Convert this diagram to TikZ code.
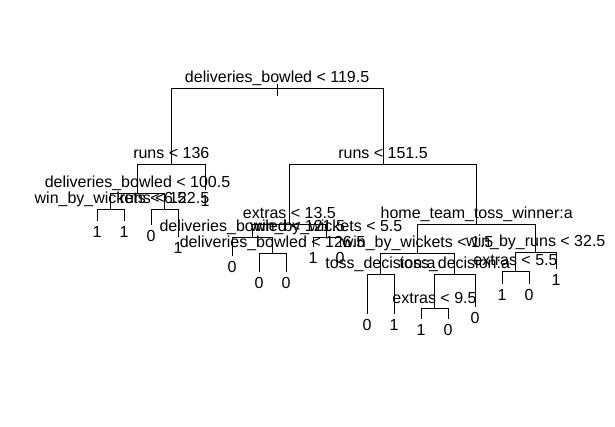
\documentclass[tikz,border=0pt]{standalone}
\usepackage{fontspec}
\setmainfont{Liberation Sans}

\begin{document}
\begin{tikzpicture}[x=1pt, y=-1pt, line width=0.9pt,
  split/.style={anchor=base, inner sep=0pt, font=\fontsize{16}{18}\selectfont},
  leaf/.style={anchor=north, inner xsep=0pt, inner ysep=5pt, font=\fontsize{16}{18}\selectfont}]
\useasboundingbox (0,0) rectangle (615,427);
% split points
\coordinate (db1) at (277.1,88);
\coordinate (ru1) at (171.3,164);
\coordinate (ru2) at (383.0,164);
\coordinate (db2) at (137.5,193);
\coordinate (wk1) at (110.5,209);
\coordinate (ru3) at (164.5,209);
\coordinate (ex1) at (289.4,224);
\coordinate (ht)  at (476.7,224);
\coordinate (db3) at (252.3,237);
\coordinate (wk2) at (326.5,237);
\coordinate (db4) at (272.5,253);
\coordinate (wk3) at (417.6,253);
\coordinate (wr)  at (535.8,252);
\coordinate (td1) at (380.5,274);
\coordinate (td2) at (454.8,274);
\coordinate (ex2) at (515.5,271);
\coordinate (ex3) at (434.5,308);
\coordinate (stubtop) at (277.1,84);
\coordinate (stubbot) at (277.1,96);
% split labels
\node[split] (db1-t) at (277.1,83) {deliveries\_bowled < 119.5};
\node[split] (ru1-t) at (171.3,159) {runs < 136};
\node[split] (ru2-t) at (383.0,159) {runs < 151.5};
\node[split] (db2-t) at (137.5,188) {deliveries\_bowled < 100.5};
\node[split] (wk1-t) at (110.5,204) {win\_by\_wickets < 6.5};
\node[split] (ru3-t) at (164.5,204) {runs < 122.5};
\node[split] (ex1-t) at (289.4,219) {extras < 13.5};
\node[split] (ht-t)  at (476.7,219) {home\_team\_toss\_winner:a};
\node[split] (db3-t) at (252.3,232) {deliveries\_bowled < 121.5};
\node[split] (wk2-t) at (326.5,232) {win\_by\_wickets < 5.5};
\node[split] (db4-t) at (272.5,248) {deliveries\_bowled < 126.5};
\node[split] (wk3-t) at (417.6,248) {win\_by\_wickets < 1.5};
\node[split] (wr-t)  at (535.8,247) {win\_by\_runs < 32.5};
\node[split] (td1-t) at (380.5,269) {toss\_decision:a};
\node[split] (td2-t) at (454.8,269) {toss\_decision:a};
\node[split] (ex2-t) at (515.5,266) {extras < 5.5};
\node[split] (ex3-t) at (434.5,303) {extras < 9.5};
% leaves
\node[leaf] (l1)  at (97,221)  {1};
\node[leaf] (l2)  at (124,221) {1};
\node[leaf] (l3)  at (151,225) {0};
\node[leaf] (l4)  at (178,237) {1};
\node[leaf] (l5)  at (205,190) {1};
\node[leaf] (l6)  at (232,256) {0};
\node[leaf] (l7)  at (259,272) {0};
\node[leaf] (l8)  at (286,272) {0};
\node[leaf] (l9)  at (313,247) {1};
\node[leaf] (l10) at (340,247) {0};
\node[leaf] (l11) at (367,314) {0};
\node[leaf] (l12) at (394,314) {1};
\node[leaf] (l13) at (421,319) {1};
\node[leaf] (l14) at (448,319) {0};
\node[leaf] (l15) at (475,307) {0};
\node[leaf] (l16) at (502,284) {1};
\node[leaf] (l17) at (529,284) {0};
\node[leaf] (l18) at (556,269) {1};
% branches
\draw (stubtop) -- (stubbot);
\draw (db1) -| (ru1) (db1) -| (ru2);
\draw (ru1) -| (db2) (ru1) -| (l5);
\draw (db2) -| (wk1) (db2) -| (ru3);
\draw (wk1) -| (l1) (wk1) -| (l2);
\draw (ru3) -| (l3) (ru3) -| (l4);
\draw (ru2) -| (ex1) (ru2) -| (ht);
\draw (ex1) -| (db3) (ex1) -| (wk2);
\draw (db3) -| (l6) (db3) -| (db4);
\draw (db4) -| (l7) (db4) -| (l8);
\draw (wk2) -| (l9) (wk2) -| (l10);
\draw (ht) -| (wk3) (ht) -| (wr);
\draw (wk3) -| (td1) (wk3) -| (td2);
\draw (td1) -| (l11) (td1) -| (l12);
\draw (td2) -| (ex3) (td2) -| (l15);
\draw (ex3) -| (l13) (ex3) -| (l14);
\draw (wr) -| (ex2) (wr) -| (l18);
\draw (ex2) -| (l16) (ex2) -| (l17);
\end{tikzpicture}
\end{document}
